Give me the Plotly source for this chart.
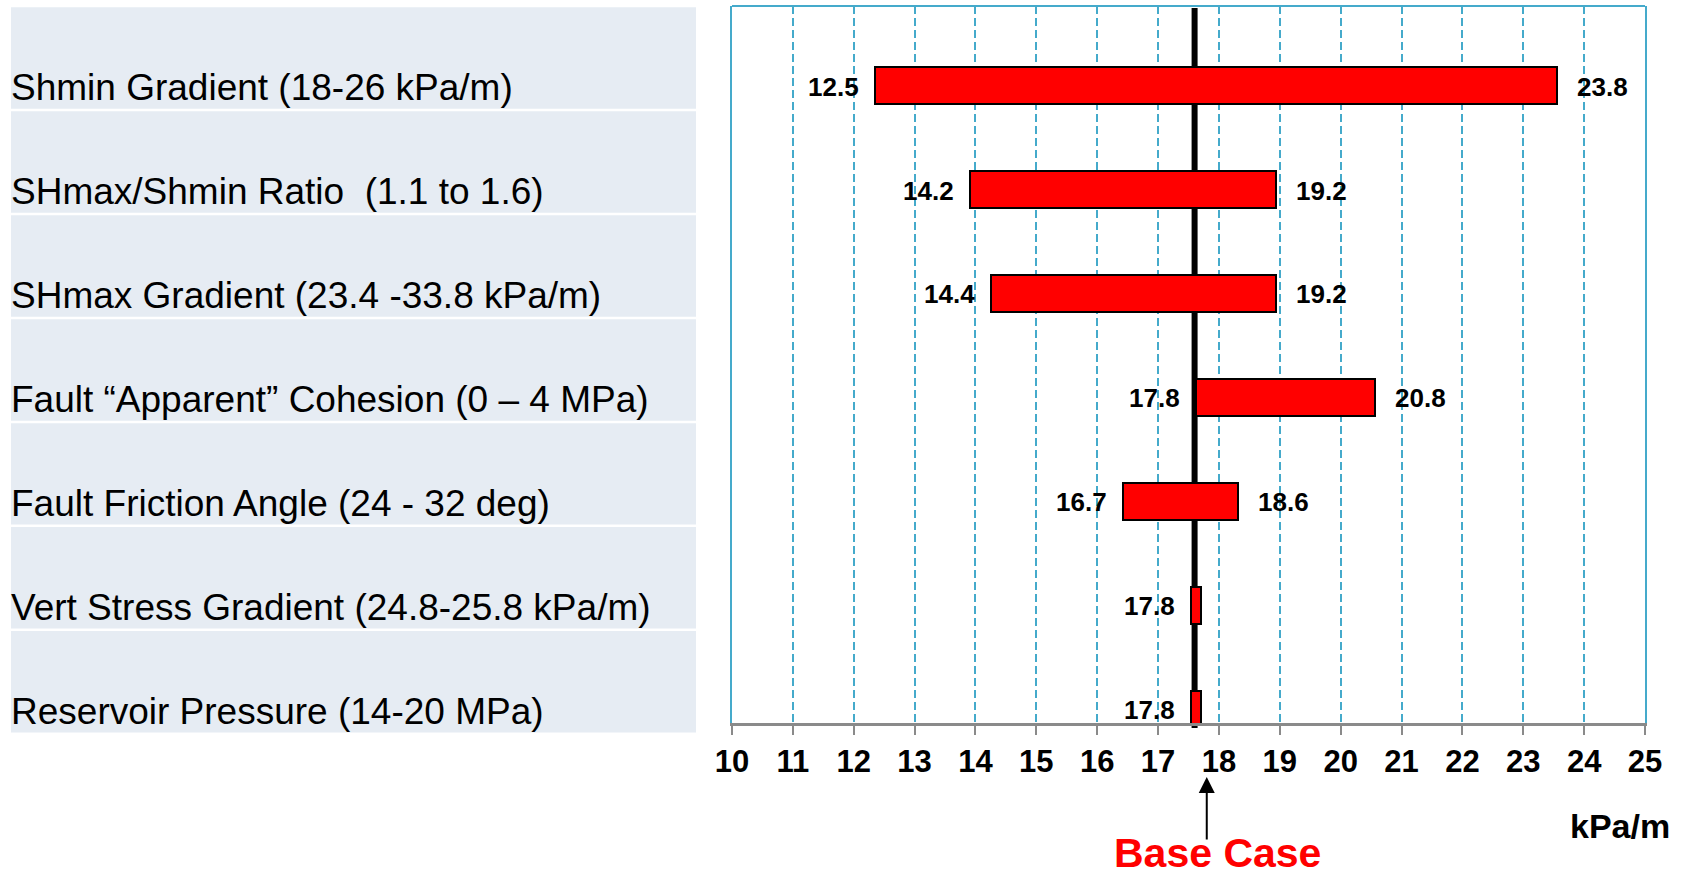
import plotly.graph_objects as go

# ---------------- data ----------------
categories = [
    "Shmin Gradient (18-26 kPa/m)",
    "SHmax/Shmin Ratio\u00a0 (1.1 to 1.6)",
    "SHmax Gradient (23.4 -33.8 kPa/m)",
    "Fault \u201cApparent\u201d Cohesion (0 \u2013 4 MPa)",
    "Fault Friction Angle (24 - 32 deg)",
    "Vert Stress Gradient (24.8-25.8 kPa/m)",
    "Reservoir Pressure (14-20 MPa)",
]
low_values = [12.35, 13.91, 14.25, 17.63, 16.42, 17.54, 17.54]
high_values = [23.56, 18.93, 18.93, 20.57, 18.31, 17.71, 17.71]
low_labels = ["12.5", "14.2", "14.4", "17.8", "16.7", "17.8", "17.8"]
high_labels = ["23.8", "19.2", "19.2", "20.8", "18.6", "", ""]
base_case_value = 17.6
base_case_arrow_value = 17.8
base_case_text = "Base Case"
x_ticks = list(range(10, 26))
x_unit = "kPa/m"

# ---------------- style ----------------
TEAL = "#45AACB"
GRAY = "#8A8A8A"
BAND = "#E6ECF3"
FONT = "Liberation Sans, Arial, sans-serif"
W, H = 1681, 880
ML, MR, MT, MB = 732, 36, 6, 157
plot_h = H - MT - MB
plot_w = W - ML - MR
Y_RANGE = [6.131, -0.765]


def py_to_paper(py):
    return (H - MB - py) / plot_h


def px_to_paper(px):
    return (px - ML) / plot_w


def cat_to_paper(v):
    return (Y_RANGE[0] - v) / (Y_RANGE[0] - Y_RANGE[1])


fig = go.Figure()
fig.add_trace(go.Bar(
    y=categories,
    x=[h - l for l, h in zip(low_values, high_values)],
    base=low_values,
    orientation="h",
    width=0.36,
    marker=dict(color="#FF0000", line=dict(color="black", width=2)),
    hoverinfo="skip",
    showlegend=False,
))

shapes = []
annotations = []

# label bands on the left
for i, cat in enumerate(categories):
    shapes.append(dict(type="rect", xref="paper", yref="paper",
                       x0=px_to_paper(11), x1=px_to_paper(696),
                       y0=cat_to_paper(i + 0.223), y1=cat_to_paper(i - 0.753),
                       fillcolor=BAND, line=dict(width=0), layer="below"))
    annotations.append(dict(xref="paper", yref="y", x=px_to_paper(9), y=i + 0.02,
                            text=cat, showarrow=False, xanchor="left", yanchor="middle",
                            font=dict(family=FONT, size=37, color="black")))

# value labels
for i, cat in enumerate(categories):
    if low_labels[i]:
        annotations.append(dict(x=low_values[i], y=cat, text=low_labels[i], showarrow=False,
                                xanchor="right", yanchor="middle", xshift=-14, yshift=-1,
                                font=dict(family=FONT, size=26, color="black", weight="bold")))
    if high_labels[i]:
        annotations.append(dict(x=high_values[i], y=cat, text=high_labels[i], showarrow=False,
                                xanchor="left", yanchor="middle", xshift=18, yshift=-1,
                                font=dict(family=FONT, size=26, color="black", weight="bold")))

# base case vertical line
shapes.append(dict(type="line", xref="x", yref="paper",
                   x0=base_case_value, x1=base_case_value,
                   y0=py_to_paper(728), y1=py_to_paper(8),
                   line=dict(color="black", width=6), layer="between"))
# top frame line
shapes.append(dict(type="line", xref="paper", yref="paper", x0=0, x1=1, y0=1, y1=1,
                   line=dict(color=TEAL, width=2)))

# base case arrow + text
annotations.append(dict(x=base_case_arrow_value, xref="x", yref="paper",
                        y=py_to_paper(777), ax=0, ay=64, axref="pixel", ayref="pixel",
                        text="", showarrow=True, arrowhead=2, arrowsize=1.6,
                        arrowwidth=2, arrowcolor="black", standoff=0))
annotations.append(dict(x=base_case_arrow_value, xref="x", yref="paper",
                        y=py_to_paper(853), xshift=11, text=base_case_text, showarrow=False,
                        xanchor="center", yanchor="middle",
                        font=dict(family=FONT, size=41, color="#FF0000", weight="bold")))
# unit label
annotations.append(dict(xref="paper", yref="paper", x=px_to_paper(1672), y=py_to_paper(826),
                        text=x_unit, showarrow=False, xanchor="right", yanchor="middle",
                        font=dict(family=FONT, size=34, color="black", weight="bold")))

fig.update_layout(
    width=W, height=H,
    margin=dict(l=ML, r=MR, t=MT, b=MB, pad=0),
    paper_bgcolor="white", plot_bgcolor="white",
    shapes=shapes, annotations=annotations,
    bargap=0,
    xaxis=dict(range=[x_ticks[0], x_ticks[-1]], tickvals=x_ticks,
               showgrid=True, gridcolor=TEAL, gridwidth=2, griddash="8px,4px",
               showline=True, linecolor=GRAY, linewidth=3,
               ticks="outside", ticklen=9, tickwidth=2, tickcolor=GRAY,
               tickfont=dict(family=FONT, size=31, color="black", weight="bold"),
               zeroline=False, fixedrange=True),
    yaxis=dict(type="category", categoryorder="array", categoryarray=categories,
               range=Y_RANGE, showticklabels=False, showgrid=False,
               zeroline=False, showline=True, mirror=True, linecolor=TEAL, linewidth=2,
               ticks="", fixedrange=True),
)

fig.write_html("out.html", config={"displayModeBar": False},
               post_script="document.body.style.margin='0px';")
